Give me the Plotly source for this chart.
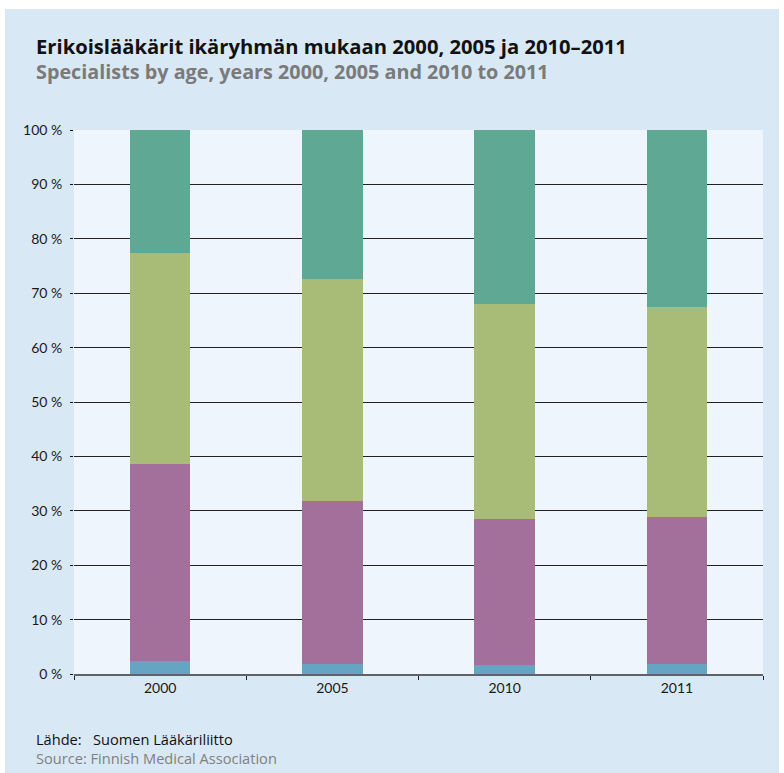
import plotly.graph_objects as go

years = ["2000", "2005", "2010", "2011"]
series_names = ["alle 35", "35–49", "50–64", "65+"]
seg_blue = [2.3, 1.9, 1.7, 1.9]
seg_purple = [36.3, 29.9, 26.8, 27.0]
seg_green = [38.8, 40.8, 39.5, 38.6]
seg_teal = [22.6, 27.4, 32.0, 32.5]
colors = ["#66a4c3", "#a3709b", "#a8bb77", "#5fa894"]
y_ticks = [0, 10, 20, 30, 40, 50, 60, 70, 80, 90, 100]
y_labels = [f"{v} %" for v in y_ticks]

FONT = "Lato"
TFONT = "Open Sans"
W, H = 784, 773
L, R, T, B = 74, 21, 130, 99
pw, ph = W - L - R, H - T - B

def px_x(px):
    return (px - L) / pw

def px_y(py):
    return (H - B - py) / ph

fig = go.Figure()
for name, vals, col in zip(series_names, [seg_blue, seg_purple, seg_green, seg_teal], colors):
    fig.add_trace(go.Bar(x=years, y=vals, name=name, marker=dict(color=col, line=dict(width=0)),
                         width=0.35, hoverinfo="x+y+name"))

fig.update_layout(
    width=W, height=H, barmode="stack", showlegend=False,
    margin=dict(l=L, r=R, t=T, b=B),
    paper_bgcolor="white", plot_bgcolor="#eff5fc",
    font=dict(family=FONT, size=14, color="#1a1a1a"),
    xaxis=dict(type="category", tickson="boundaries", ticks="outside", ticklen=4,
               tickcolor="#222", showline=True, linecolor="#5f6368", linewidth=2,
               showgrid=False, tickfont=dict(size=14, color="#1a1a1a")),
    yaxis=dict(range=[0, 100], tickvals=y_ticks, ticktext=y_labels, ticks="outside",
               ticklen=3, tickcolor="#111", ticklabelstandoff=5, showgrid=True,
               gridcolor="#222", gridwidth=1,
               zeroline=False, showline=False, tickfont=dict(size=14, color="#1a1a1a")),
    shapes=[
        dict(type="rect", xref="paper", yref="paper", layer="below",
             x0=px_x(5), x1=px_x(779), y0=px_y(773), y1=px_y(9),
             fillcolor="#d9e8f5", line=dict(width=0)),
        dict(type="rect", xref="paper", yref="paper", layer="below",
             x0=0, x1=1, y0=0, y1=1, fillcolor="#eff5fc", line=dict(width=0)),
    ],
    annotations=[
        dict(text="<b>Erikoislääkärit ikäryhmän mukaan 2000, 2005 ja 2010–2011</b>",
             xref="paper", yref="paper", x=px_x(34), y=px_y(46), xanchor="left", yanchor="middle",
             showarrow=False, font=dict(family=TFONT, size=20.2, color="#111")),
        dict(text="<b>Specialists by age, years 2000, 2005 and 2010 to 2011</b>",
             xref="paper", yref="paper", x=px_x(34), y=px_y(72), xanchor="left", yanchor="middle",
             showarrow=False, font=dict(family=TFONT, size=19.8, color="#7a7a7a")),
        dict(text="Lähde:   Suomen Lääkäriliitto",
             xref="paper", yref="paper", x=px_x(34), y=px_y(739), xanchor="left", yanchor="middle",
             showarrow=False, font=dict(family=TFONT, size=14.6, color="#111")),
        dict(text="Source: Finnish Medical Association",
             xref="paper", yref="paper", x=px_x(34), y=px_y(758), xanchor="left", yanchor="middle",
             showarrow=False, font=dict(family=TFONT, size=14.6, color="#808080")),
    ],
)

fig.write_html("out.html", config={"displayModeBar": False},
               post_script="document.body.style.margin='0';document.body.style.overflow='hidden';")
